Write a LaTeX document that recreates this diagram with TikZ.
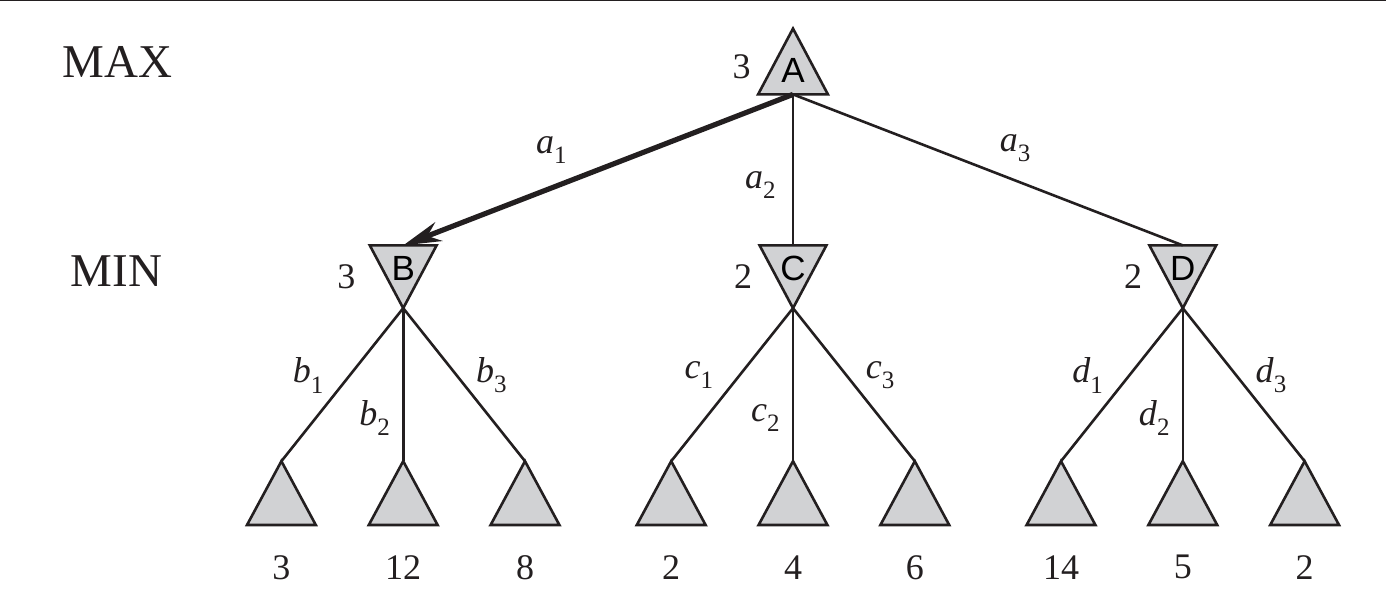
\documentclass[tikz,border=0pt]{standalone}
\usepackage{fontspec}
\setmainfont{Liberation Serif}
\newfontfamily\trisans{Liberation Sans}
\usepackage{tikz}
\usetikzlibrary{arrows.meta, positioning, backgrounds}
\definecolor{trigray}{RGB}{209,210,212}
\definecolor{ink}{RGB}{35,31,32}
\newcommand{\mvlabel}[2]{\textit{#1}\raisebox{-5pt}{\fontsize{12.5}{12.5}\selectfont #2}}
\tikzset{
  maxtri/.style={
    rectangle, inner sep=0pt,
    minimum width=34.5pt, minimum height=32.5pt,
    text height=21pt, text depth=0pt,
    font=\trisans\fontsize{17.5}{18}\selectfont
  },
  mintri/.style={
    rectangle, inner sep=0pt,
    minimum width=33pt, minimum height=31pt,
    text height=12.5pt, text depth=8.5pt,
    font=\trisans\fontsize{17.5}{18}\selectfont
  },
  leaf/.style={
    rectangle, inner sep=0pt,
    minimum width=34pt, minimum height=31.5pt
  },
  lv/.style={yshift=-11.5pt},
  tri/.style={fill=trigray, draw=ink, line width=1.3pt, line join=miter},
  ln/.style={draw=ink, line width=1.3pt},
  best/.style={draw=ink, line width=2.6pt, -{Stealth[length=19pt, width=10pt, inset=6pt]}},
  mvl/.style={font=\fontsize{18}{18}\selectfont, inner sep=0pt, text=ink},
  side/.style={font=\fontsize{23.5}{24}\selectfont, inner sep=0pt, text=ink}
}
\begin{document}
\begin{tikzpicture}[x=0.5pt, y=0.5pt, label distance=3.5pt,
  every label/.style={font=\fontsize{18}{18}\selectfont, inner sep=0pt, text=ink}]

  \useasboundingbox (0,0) rectangle (1386,608);
  \draw[ink, line width=0.8pt] (0,607.6) -- (1386,607.6);

  \node[side] (max) at (117.5,545.5) {MAX};
  \node[side] (min) at (116.5,337)   {MIN};

  \node[maxtri, label={[yshift=-2.5pt]left:3}] (A) at (793,546.5) {A};

  \node[mintri, below=75.5pt of A, label=left:2] (C) {C};
  \node[mintri, left=161.5pt of C, label={[xshift=-3.5pt]left:3}] (B) {B};
  \node[mintri, right=161.5pt of C, label=left:2] (D) {D};

  \node[leaf, below=76.5pt of B,  label={[lv]below:12}] (B2) {};
  \node[leaf, left=26.5pt of B2,  label={[lv]below:3}]  (B1) {};
  \node[leaf, right=26.5pt of B2, label={[lv]below:8}]  (B3) {};
  \node[leaf, below=76.5pt of C,  label={[lv]below:4}]  (C2) {};
  \node[leaf, left=26.5pt of C2,  label={[lv]below:2}]  (C1) {};
  \node[leaf, right=26.5pt of C2, label={[lv]below:6}]  (C3) {};
  \node[leaf, below=76.5pt of D,  label={[lv]below:5}]  (D2) {};
  \node[leaf, left=26.5pt of D2,  label={[lv]below:14}] (D1) {};
  \node[leaf, right=26.5pt of D2, label={[lv]below:2}]  (D3) {};

  % grey triangles behind the letters
  \begin{scope}[on background layer]
    \foreach \n in {A,B1,B2,B3,C1,C2,C3,D1,D2,D3}
      \path[tri] (\n.south west) -- (\n.north) -- (\n.south east) -- cycle;
    \foreach \n in {B,C,D}
      \path[tri] (\n.north west) -- (\n.south) -- (\n.north east) -- cycle;
  \end{scope}

  \draw[best] (A.south) -- node[mvl, pos=0.62, above=11pt] (a1) {\mvlabel{a}{1}} (B.north);
  \draw[ln]   (A.south) -- node[mvl, pos=0.6, left=8pt]    (a2) {\mvlabel{a}{2}} (C.north);
  \draw[ln]   (A.south) -- node[mvl, pos=0.57, above=8.5pt] (a3) {\mvlabel{a}{3}} (D.north);

  \draw[ln] (B.south) -- node[mvl, pos=0.44, left=12.5pt] (b1) {\mvlabel{b}{1}} (B1.north);
  \draw[ln] (B.south) -- node[mvl, pos=0.72, left=6pt]    (b2) {\mvlabel{b}{2}} (B2.north);
  \draw[ln] (B.south) -- node[mvl, pos=0.44, right=9pt]   (b3) {\mvlabel{b}{3}} (B3.north);

  \draw[ln] (C.south) -- node[mvl, pos=0.44, left=12.5pt] (c1) {\mvlabel{c}{1}} (C1.north);
  \draw[ln] (C.south) -- node[mvl, pos=0.72, left=6pt]    (c2) {\mvlabel{c}{2}} (C2.north);
  \draw[ln] (C.south) -- node[mvl, pos=0.44, right=9pt]   (c3) {\mvlabel{c}{3}} (C3.north);

  \draw[ln] (D.south) -- node[mvl, pos=0.44, left=12.5pt] (d1) {\mvlabel{d}{1}} (D1.north);
  \draw[ln] (D.south) -- node[mvl, pos=0.72, left=6pt]    (d2) {\mvlabel{d}{2}} (D2.north);
  \draw[ln] (D.south) -- node[mvl, pos=0.44, right=9pt]   (d3) {\mvlabel{d}{3}} (D3.north);

\end{tikzpicture}
\end{document}
